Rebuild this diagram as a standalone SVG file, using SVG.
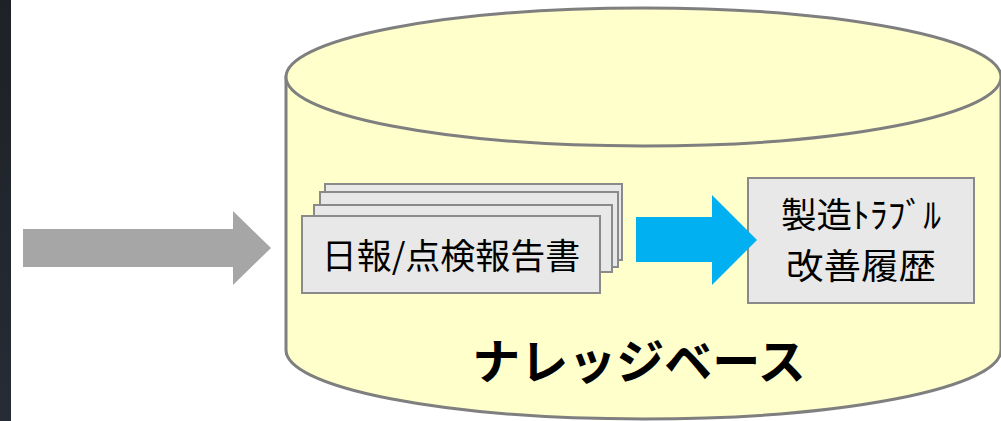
<svg xmlns="http://www.w3.org/2000/svg" width="1001" height="421" viewBox="0 0 1001 421">
  <defs>
    <linearGradient id="strip" x1="0" y1="0" x2="0" y2="1">
      <stop offset="0" stop-color="#1e2126"/>
      <stop offset="1" stop-color="#262b35"/>
    </linearGradient>
    <style>
      .cyl { fill: #ffffcc; stroke: #7f7f7f; stroke-width: 3; }
      .doc { fill: #e8e8e8; stroke: #8a8a8a; stroke-width: 2; }
      .lbl { font-family: "Noto Sans CJK JP", "Noto Sans", sans-serif; fill: #000000; text-anchor: middle; }
    </style>
  </defs>
  <rect x="0" y="0" width="1001" height="421" fill="#ffffff"/>
  <rect x="0" y="0" width="11" height="421" fill="url(#strip)"/>

  <g id="knowledge-base">
    <path class="cyl" d="M286,77 L286,350 A357.5,69 0 0 0 1001,350 L1001,77 Z"/>
    <ellipse class="cyl" cx="643.5" cy="77" rx="357.5" ry="69"/>
    <text class="lbl" x="639" y="379" font-size="48" font-weight="bold">ナレッジベース</text>
  </g>

  <g id="reports">
    <rect class="doc" x="325" y="184" width="297" height="76"/>
    <rect class="doc" x="320" y="192" width="298" height="75"/>
    <rect class="doc" x="314" y="205" width="298" height="67"/>
    <rect class="doc" x="302" y="216" width="298" height="77"/>
    <text class="lbl" x="451" y="269" font-size="35">日報/点検報告書</text>
  </g>

  <g id="trouble-history">
    <rect class="doc" x="748" y="178" width="226" height="125"/>
    <text class="lbl" x="861" y="228" font-size="35" textLength="160" lengthAdjust="spacingAndGlyphs">製造ﾄﾗﾌﾞﾙ</text>
    <text class="lbl" x="861" y="279" font-size="35" textLength="150" lengthAdjust="spacingAndGlyphs">改善履歴</text>
  </g>

  <g id="connectors">
    <polygon fill="#a6a6a6" points="23,229 233,229 233,211 271,248 233,285 233,267 23,267"/>
    <polygon fill="#00b0f0" points="636,217 712,217 712,195 757,240 712,285 712,262 636,262"/>
  </g>
</svg>
